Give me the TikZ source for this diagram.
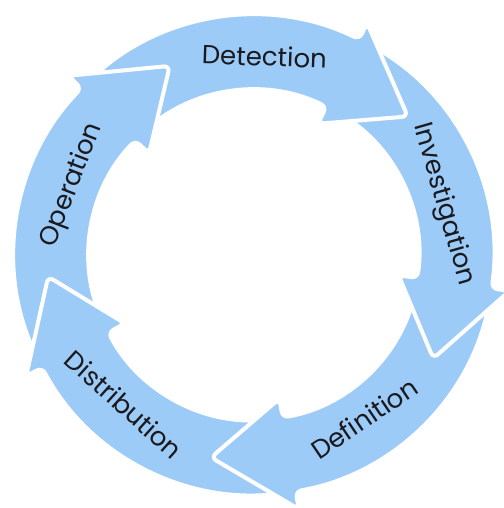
\documentclass[tikz,border=0pt]{standalone}
\usepackage{fontspec}
\setmainfont{Poppins}
\usetikzlibrary{calc}

\definecolor{cycleblue}{RGB}{157,203,247}
\definecolor{cycletext}{RGB}{25,25,30}

% ring piece with its head: tail angle, head base angle
\newcommand{\ringarrow}[2]{%
  (#1:165pt) arc[start angle=#1, end angle=#2, radius=165pt]
  -- (#2:146pt) -- ({#2-22}:207pt) -- (#2:258pt) -- (#2:240pt)
  arc[start angle=#2, end angle=#1, radius=240pt] -- cycle}

\begin{document}
\begin{tikzpicture}[
  arrowpart/.style={fill=cycleblue,draw=white,line width=4pt,rounded corners=6pt,line join=round},
  steplabel/.style={text=cycletext,font=\fontsize{26}{30}\selectfont,inner sep=0pt}
]
  \useasboundingbox (-254pt,-253pt) rectangle (249pt,255pt);

  % arrows, each head over the next tail
  \draw[arrowpart] \ringarrow{205}{136};
  \draw[arrowpart] \ringarrow{-83}{-152};
  \draw[arrowpart] \ringarrow{-11}{-80};
  \draw[arrowpart] \ringarrow{61}{-8};
  \draw[arrowpart] \ringarrow{133}{64};
  % head of the operation arrow again, on top of the detection tail
  \begin{scope}
    \clip (0,0) -- (152:300pt) -- (100:300pt) -- cycle;
    \draw[arrowpart] \ringarrow{205}{136};
  \end{scope}

  % labels
  \node[steplabel,rotate=-2] (detection) at (87:199pt) {Detection};
  \node[steplabel,rotate=-74] (investigation) at (15:196pt) {Investigation};
  \node[steplabel,rotate=34] (definition) at (-56:197pt) {Definition};
  \node[steplabel,rotate=-42] (distribution) at (-131:198pt) {Distribution};
  \node[steplabel,rotate=69] (operation) at (159:195pt) {Operation};
\end{tikzpicture}
\end{document}
